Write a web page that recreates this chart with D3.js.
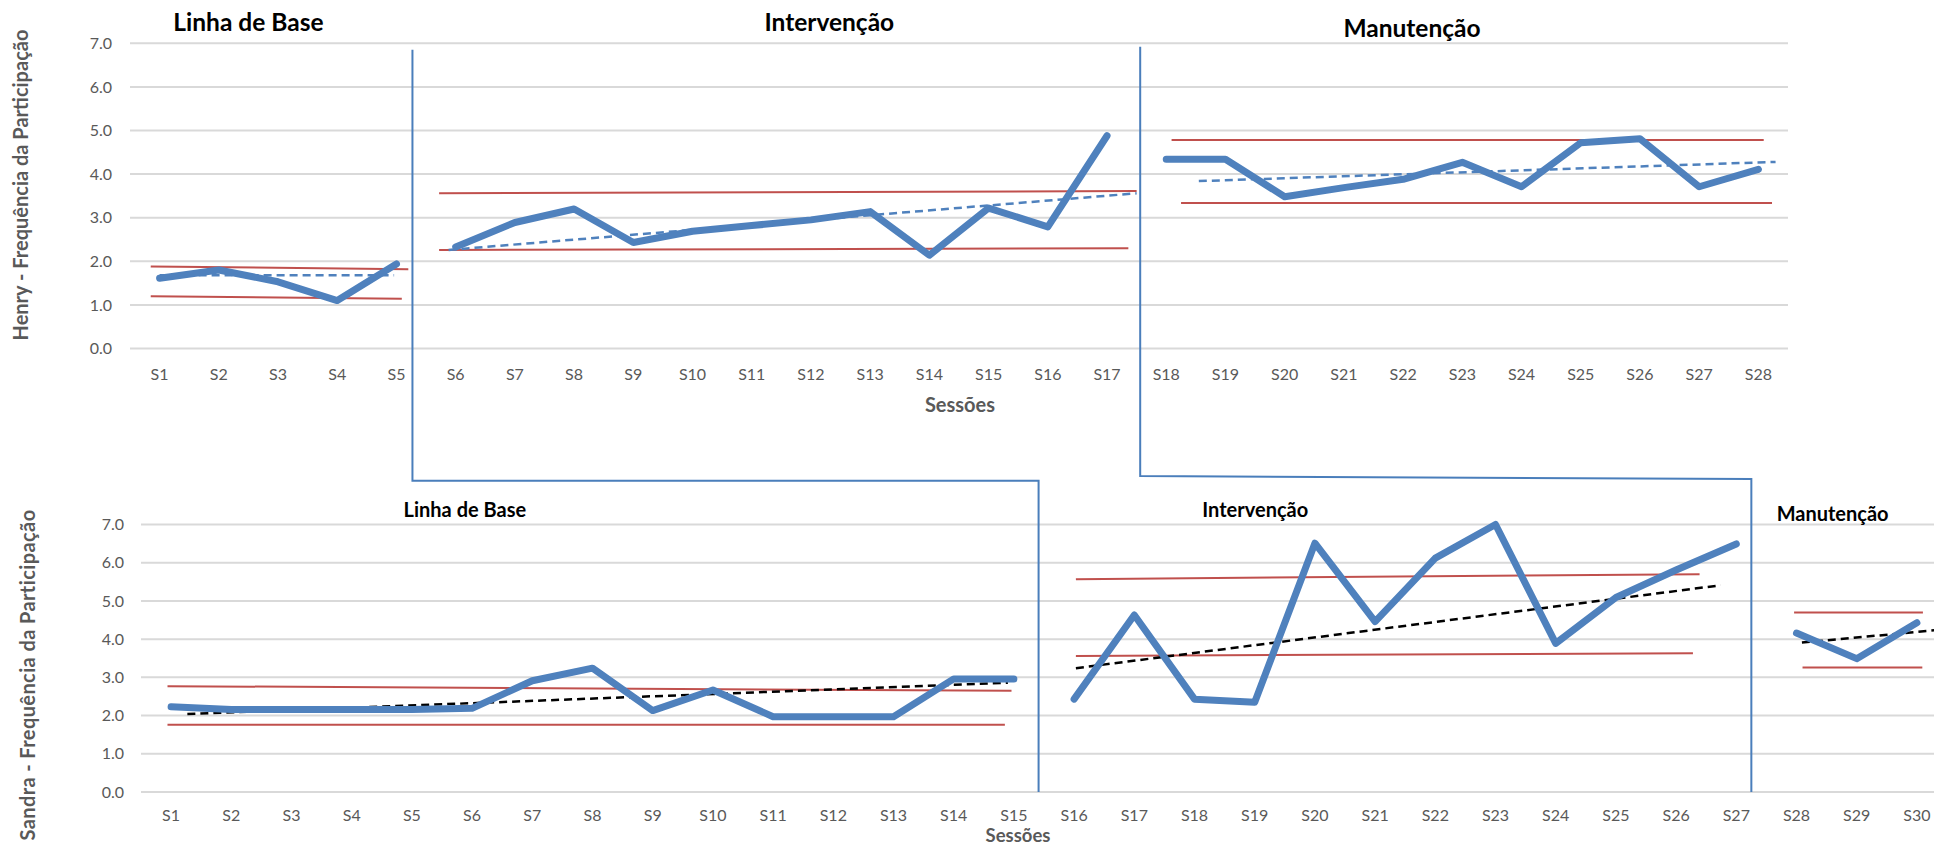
<!DOCTYPE html>
<html><head><meta charset="utf-8">
<script src="https://cdn.jsdelivr.net/npm/d3@7"></script>
<style>
html,body{margin:0;padding:0;background:#fff;}
svg{display:block;}
text{font-family:Lato,"Open Sans",sans-serif;}
</style></head><body>
<svg id="chart" width="1934" height="845"></svg>
<script>
// ---------- DATA ----------
const yTicks = [0, 1, 2, 3, 4, 5, 6, 7];

const henrySessions = ["S1","S2","S3","S4","S5","S6","S7","S8","S9","S10","S11","S12","S13","S14",
  "S15","S16","S17","S18","S19","S20","S21","S22","S23","S24","S25","S26","S27","S28"];
const henryValues = [1.61,1.80,1.53,1.10,1.94,
  2.33,2.89,3.20,2.43,2.69,2.82,2.95,3.14,2.14,3.22,2.79,4.88,
  4.34,4.34,3.48,3.69,3.88,4.27,3.71,4.72,4.81,3.71,4.11];
const henryPhaseNames = ["Linha de Base","Intervenção","Manutenção"];
const henryPhaseRanges = [[1,5],[6,17],[18,28]];
// [session index start, value start, session index end, value end]
const henryUpper = [[0.85,1.88,5.20,1.82],[5.72,3.56,17.50,3.61],[18.09,4.78,28.09,4.78]];
const henryLower = [[0.85,1.20,5.09,1.14],[5.72,2.26,17.36,2.30],[18.25,3.34,28.23,3.34]];
const henryTrend = [[1.00,1.68,4.96,1.68],[5.88,2.26,17.50,3.56],[18.55,3.84,28.29,4.28]];
const henryTitleAt = [2.5, 12.31, 22.15];

const sandraSessions = ["S1","S2","S3","S4","S5","S6","S7","S8","S9","S10","S11","S12","S13","S14","S15",
  "S16","S17","S18","S19","S20","S21","S22","S23","S24","S25","S26","S27","S28","S29","S30"];
const sandraValues = [2.23,2.16,2.16,2.16,2.16,2.19,2.91,3.24,2.13,2.67,1.97,1.97,1.97,2.96,2.96,
  2.43,4.63,2.43,2.35,6.51,4.46,6.12,7.00,3.89,5.09,5.81,6.49,
  4.16,3.49,4.43];
const sandraPhaseNames = ["Linha de Base","Intervenção","Manutenção"];
const sandraPhaseRanges = [[1,15],[16,27],[28,30]];
const sandraUpper = [[0.94,2.77,14.96,2.65],[16.03,5.57,26.39,5.70],[27.96,4.70,30.10,4.70]];
const sandraLower = [[0.94,1.76,14.85,1.76],[16.03,3.56,26.28,3.63],[28.10,3.26,30.09,3.26]];
const sandraTrend = [[1.27,2.04,14.90,2.86],[16.03,3.24,26.74,5.41],[28.09,3.91,30.35,4.24]];
const sandraTitleAt = [5.88, 19.01, 28.60];

// phase change lines: [henry index, henry top value, sandra index]
const phaseChanges = [[5.27, 6.85, 15.41], [17.56, 6.92, 27.25]];

// ---------- STYLE ----------
const BLUE = "#4F81BD", RED = "#C0504D", GRID = "#D9D9D9", LABEL = "#595959", SEP = "#4A7EBB";

const svg = d3.select("#chart");
svg.append("rect").attr("width",1934).attr("height",845).attr("fill","#fff");

function drawPanel(cfg) {
  const g = svg.append("g");
  const x = d3.scaleBand().domain(cfg.sessions).range(cfg.xRange).paddingInner(0).paddingOuter(0);
  const xi = d3.scaleLinear().domain([0.5, cfg.sessions.length + 0.5]).range(cfg.xRange);
  const y = d3.scaleLinear().domain([0, 7]).range(cfg.yRange);

  g.append("g").selectAll("line").data(yTicks).join("line")
    .attr("x1", cfg.xRange[0]).attr("x2", cfg.xRange[1])
    .attr("y1", d => y(d)).attr("y2", d => y(d))
    .attr("stroke", GRID).attr("stroke-width", 2);

  const ya = g.append("g").attr("transform", `translate(${cfg.xRange[0]},0)`)
    .call(d3.axisLeft(y).tickValues(yTicks).tickFormat(d3.format(".1f")).tickSize(0).tickPadding(cfg.yPad));
  ya.select(".domain").remove();
  ya.selectAll("text").attr("fill", LABEL).style("font-size", "16px").style("font-family","Lato");

  const xa = g.append("g").attr("transform", `translate(0,${cfg.yRange[0]})`)
    .call(d3.axisBottom(x).tickSize(0).tickPadding(cfg.xPad));
  xa.select(".domain").remove();
  xa.selectAll("text").attr("fill", LABEL).style("font-size", "16px").style("font-family","Lato");

  const seg = (arr, color, width, dash) => {
    g.append("g").selectAll("line").data(arr).join("line")
      .attr("x1", d => xi(d[0])).attr("y1", d => y(d[1]))
      .attr("x2", d => xi(d[2])).attr("y2", d => y(d[3]))
      .attr("stroke", color).attr("stroke-width", width)
      .attr("stroke-dasharray", dash || null);
  };
  seg(cfg.upper, RED, 2);
  seg(cfg.lower, RED, 2);
  seg(cfg.trend, cfg.trendColor, 2.5, "8,5");

  const line = d3.line().x(d => x(d.s) + x.bandwidth()/2).y(d => y(d.v));
  const pts = cfg.sessions.map((s, i) => ({s, v: cfg.values[i], i: i + 1}));
  g.append("g").selectAll("path").data(cfg.phaseRanges).join("path")
    .attr("d", r => line(pts.filter(p => p.i >= r[0] && p.i <= r[1])))
    .attr("fill", "none").attr("stroke", BLUE).attr("stroke-width", 7)
    .attr("stroke-linejoin", "round").attr("stroke-linecap", "round");

  g.append("g").selectAll("text").data(cfg.phaseNames).join("text")
    .attr("x", (d, i) => xi(cfg.titleAt[i]))
    .attr("y", (d, i) => cfg.titleY[i])
    .attr("text-anchor", "middle").attr("font-weight", "bold")
    .attr("font-size", cfg.titleSize).attr("fill", "#000").text(d => d);

  g.append("text").attr("x", cfg.sessX).attr("y", cfg.sessY).attr("text-anchor","middle")
    .attr("font-weight","bold").attr("font-size", cfg.sessSize).attr("fill", LABEL).text("Sessões");
  g.append("text").attr("transform", `translate(${cfg.yTitleX},${cfg.yTitleY}) rotate(-90)`)
    .attr("text-anchor","middle").attr("font-weight","bold").attr("font-size", cfg.yTitleSize)
    .attr("letter-spacing", cfg.yTitleSpacing).attr("fill", LABEL).text(cfg.yTitle);
  return {x, xi, y};
}

const topPanel = drawPanel({
  sessions: henrySessions, values: henryValues, phaseRanges: henryPhaseRanges, phaseNames: henryPhaseNames,
  upper: henryUpper, lower: henryLower, trend: henryTrend, trendColor: BLUE, titleAt: henryTitleAt,
  xRange: [130, 1788], yRange: [348.5, 43.3], yPad: 18, xPad: 20,
  titleY: [31, 31, 37], titleSize: 24.5,
  sessX: 960, sessY: 412, sessSize: 20,
  yTitle: "Henry - Frequência da Participação", yTitleX: 28, yTitleY: 185, yTitleSize: 20, yTitleSpacing: 0
});
const botPanel = drawPanel({
  sessions: sandraSessions, values: sandraValues, phaseRanges: sandraPhaseRanges, phaseNames: sandraPhaseNames,
  upper: sandraUpper, lower: sandraLower, trend: sandraTrend, trendColor: "#000", titleAt: sandraTitleAt,
  xRange: [141, 1947], yRange: [792, 524.5], yPad: 17, xPad: 18,
  titleY: [517, 517, 521], titleSize: 20,
  sessX: 1018, sessY: 842, sessSize: 18.5,
  yTitle: "Sandra - Frequência da Participação", yTitleX: 35, yTitleY: 675, yTitleSize: 20, yTitleSpacing: 0.4
});

const connY = [[480.7, 480.7], [476, 479]];
svg.append("g").selectAll("path").data(phaseChanges).join("path")
  .attr("d", (d, i) => {
    const xt = topPanel.xi(d[0]), xb = botPanel.xi(d[2]);
    return `M${xt},${topPanel.y(d[1])}L${xt},${connY[i][0]}L${xb},${connY[i][1]}L${xb},${botPanel.y(0)}`;
  })
  .attr("fill","none").attr("stroke", SEP).attr("stroke-width", 2);
</script>
</body></html>
